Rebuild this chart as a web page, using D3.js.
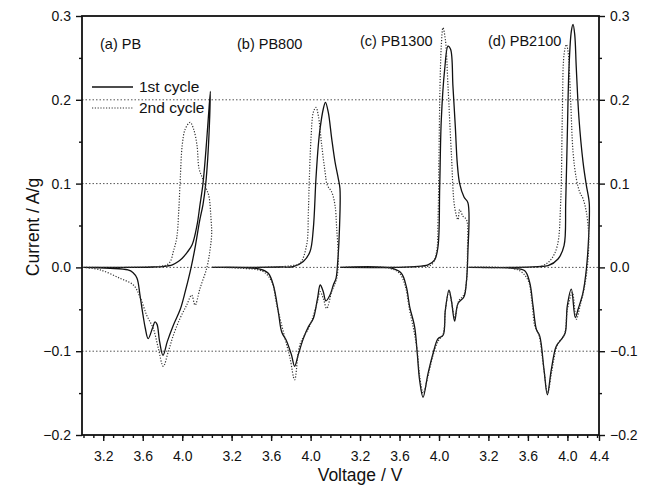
<!DOCTYPE html>
<html>
<head>
<meta charset="utf-8">
<script src="https://cdn.jsdelivr.net/npm/d3@7"></script>
<style>
  html, body { margin: 0; padding: 0; background: #fff; }
  svg { display: block; font-family: "Liberation Sans", Arial, sans-serif; }
</style>
</head>
<body>
<svg id="chart" width="649" height="492"></svg>
<script>
// ---------------- DATA ----------------
const panelLabels = ["(a) PB", "(b) PB800", "(c) PB1300", "(d) PB2100"];
const seriesNames = ["1st cycle", "2nd cycle"];
const xTickLabels = ["3.2", "3.6", "4.0"];
const xEndLabel = "4.4";
const yTickValues = [-0.2, -0.1, 0.0, 0.1, 0.2, 0.3];
const gridValues = [-0.1, 0.0, 0.1, 0.2];
const panelOffset = 1.3;   // voltage shift between successive panels

// [voltage V, current A/g]  (1st cycle = solid, 2nd cycle = dotted)
const pbCycle1 = [[3.0,0],[3.4,0],[3.7,0.0005],[3.8,0.001],[3.9,0.003],[3.96,0.007],[4.0,0.011],[4.05,0.018],[4.10,0.027],[4.149,0.05],[4.18,0.075],[4.21,0.1],[4.24,0.14],[4.265,0.18],[4.285,0.21],
  [4.275,0.17],[4.258,0.13],[4.238,0.1],[4.21,0.075],[4.175,0.055],[4.135,0.027],[4.09,0.0],[4.03,-0.029],[3.98,-0.05],[3.91,-0.069],[3.85,-0.088],[3.805,-0.105],[3.77,-0.088],[3.745,-0.068],[3.724,-0.065],[3.70,-0.072],[3.655,-0.085],[3.625,-0.072],[3.603,-0.057],[3.572,-0.033],[3.542,-0.013],[3.5,-0.006],[3.45,-0.003],[3.27,-0.001],[3.0,0]];
const pbCycle2 = [[3.0,0],[3.5,0],[3.75,0.001],[3.843,0.003],[3.88,0.007],[3.91,0.019],[3.944,0.035],[3.964,0.066],[3.98,0.106],[4.0,0.146],[4.03,0.165],[4.08,0.173],[4.115,0.165],[4.149,0.146],[4.17,0.118],[4.2,0.108],[4.24,0.095],[4.27,0.085],[4.29,0.06],[4.298,0.04],
  [4.28,0.02],[4.25,0],[4.18,-0.025],[4.13,-0.045],[4.095,-0.033],[4.045,-0.045],[3.977,-0.061],[3.91,-0.081],[3.86,-0.1],[3.808,-0.118],[3.757,-0.096],[3.707,-0.073],[3.64,-0.057],[3.572,-0.035],[3.505,-0.021],[3.37,-0.013],[3.17,-0.003],[3.0,0]];

const pb800Cycle1 = [[3.0,0],[3.4,0],[3.7,0.0005],[3.825,0.001],[3.926,0.007],[3.994,0.019],[4.027,0.046],[4.054,0.106],[4.078,0.146],[4.095,0.165],[4.128,0.189],[4.15,0.197],[4.179,0.185],[4.213,0.154],[4.247,0.126],[4.28,0.106],[4.297,0.094],
  [4.292,0.046],[4.272,0.003],[4.257,-0.013],[4.23,-0.021],[4.196,-0.033],[4.155,-0.04],[4.128,-0.029],[4.097,-0.021],[4.07,-0.037],[4.027,-0.061],[3.977,-0.071],[3.926,-0.085],[3.875,-0.104],[3.838,-0.118],[3.805,-0.104],[3.757,-0.088],[3.707,-0.077],[3.673,-0.053],[3.622,-0.021],[3.571,-0.007],[3.487,-0.002],[3.0,0]];
const pb800Cycle2 = [[3.0,0],[3.5,0],[3.8,0.002],[3.892,0.005],[3.96,0.027],[3.977,0.066],[3.987,0.106],[4.004,0.154],[4.027,0.185],[4.054,0.191],[4.078,0.181],[4.112,0.146],[4.146,0.114],[4.169,0.098],[4.213,0.09],[4.247,0.074],[4.264,0.046],[4.28,0.011],
  [4.264,-0.013],[4.213,-0.029],[4.163,-0.049],[4.128,-0.037],[4.097,-0.029],[4.07,-0.04],[3.994,-0.069],[3.892,-0.092],[3.838,-0.134],[3.791,-0.108],[3.724,-0.077],[3.657,-0.045],[3.606,-0.017],[3.52,-0.005],[3.3,-0.001],[3.0,0]];

const pb1300Cycle1 = [[3.0,0],[3.5,0],[3.75,0.001],[3.888,0.003],[3.956,0.009],[3.99,0.025],[4.007,0.096],[4.023,0.176],[4.057,0.236],[4.091,0.264],[4.118,0.26],[4.141,0.216],[4.165,0.168],[4.185,0.124],[4.209,0.1],[4.253,0.084],[4.293,0.077],
  [4.292,0.017],[4.276,-0.019],[4.253,-0.035],[4.192,-0.043],[4.158,-0.064],[4.125,-0.039],[4.101,-0.027],[4.064,-0.051],[4.041,-0.081],[3.99,-0.085],[3.939,-0.103],[3.888,-0.127],[3.838,-0.155],[3.804,-0.135],[3.78,-0.103],[3.753,-0.071],[3.703,-0.047],[3.669,-0.023],[3.618,-0.007],[3.517,-0.001],[3.0,0]];
const pb1300Cycle2 = [[3.0,0],[3.5,0],[3.8,0.001],[3.922,0.003],[3.973,0.017],[3.99,0.057],[4.0,0.137],[4.01,0.216],[4.023,0.264],[4.04,0.286],[4.064,0.272],[4.091,0.216],[4.125,0.136],[4.158,0.072],[4.192,0.057],[4.209,0.069],[4.243,0.061],[4.278,0.057],
  [4.288,0.02],[4.276,-0.019],[4.25,-0.033],[4.2,-0.04],[4.16,-0.06],[4.125,-0.04],[4.101,-0.028],[4.064,-0.052],[4.041,-0.08],[3.99,-0.088],[3.939,-0.105],[3.888,-0.13],[3.84,-0.15],[3.804,-0.13],[3.78,-0.1],[3.745,-0.075],[3.7,-0.05],[3.66,-0.023],[3.6,-0.007],[3.5,-0.001],[3.0,0]];

const pb2100Cycle1 = [[3.0,0],[3.5,0],[3.7,0.001],[3.804,0.002],[3.905,0.01],[3.966,0.026],[3.983,0.078],[3.999,0.158],[4.016,0.238],[4.04,0.282],[4.057,0.29],[4.074,0.278],[4.09,0.238],[4.117,0.178],[4.158,0.126],[4.192,0.098],[4.216,0.082],[4.222,0.075],
  [4.216,0.038],[4.192,-0.002],[4.158,-0.03],[4.108,-0.05],[4.08,-0.06],[4.04,-0.026],[3.999,-0.046],[3.978,-0.078],[3.938,-0.086],[3.887,-0.094],[3.837,-0.122],[3.797,-0.152],[3.763,-0.122],[3.72,-0.082],[3.686,-0.074],[3.652,-0.046],[3.618,-0.018],[3.568,-0.004],[3.45,-0.001],[3.0,0]];
const pb2100Cycle2 = [[3.0,0],[3.5,0],[3.75,0.002],[3.837,0.01],[3.898,0.026],[3.932,0.078],[3.948,0.178],[3.966,0.254],[3.989,0.266],[4.006,0.258],[4.033,0.198],[4.057,0.138],[4.09,0.106],[4.124,0.09],[4.158,0.082],[4.192,0.066],[4.215,0.04],
  [4.209,0.01],[4.175,-0.022],[4.13,-0.045],[4.09,-0.062],[4.05,-0.03],[4.0,-0.05],[3.97,-0.08],[3.9,-0.092],[3.84,-0.125],[3.8,-0.15],[3.76,-0.12],[3.71,-0.08],[3.67,-0.07],[3.64,-0.04],[3.6,-0.015],[3.5,-0.003],[3.0,0]];

const panels = [
  [pbCycle1, pbCycle2],
  [pb800Cycle1, pb800Cycle2],
  [pb1300Cycle1, pb1300Cycle2],
  [pb2100Cycle1, pb2100Cycle2]
];

// ---------------- LAYOUT ----------------
const svg = d3.select("#chart");
const L = 82, R = 599, T = 16, B = 435;
const xMin = 2.985, xMax = xMin + (R - L) / 98.76;
const x = d3.scaleLinear().domain([xMin, xMax]).range([L, R]);
const y = d3.scaleLinear().domain([-0.2, 0.3]).range([B, T]);

// gridlines
svg.append("g").selectAll("line").data(gridValues).join("line")
  .attr("x1", L).attr("x2", R)
  .attr("y1", d => y(d)).attr("y2", d => y(d))
  .attr("stroke", "#555").attr("stroke-width", 1)
  .attr("stroke-dasharray", "1.5,2");

// curves
const line = d3.line().curve(d3.curveCatmullRom.alpha(0.5));
panels.forEach((cycles, i) => {
  cycles.forEach((pts, j) => {
    svg.append("path")
      .attr("d", line(pts.map(p => [x(p[0] + i * panelOffset), y(p[1])])))
      .attr("fill", "none")
      .attr("stroke", j === 0 ? "#111" : "#333")
      .attr("stroke-width", j === 0 ? 1.3 : 1.2)
      .attr("stroke-dasharray", j === 0 ? null : "1.2,1.6");
  });
});

// frame
svg.append("rect").attr("x", L).attr("y", T).attr("width", R - L).attr("height", B - T)
  .attr("fill", "none").attr("stroke", "#111").attr("stroke-width", 1.8);

// y axes (left and right)
const yMinor = d3.range(-0.15, 0.3, 0.1);
const yLeft = d3.axisLeft(y).tickValues(yTickValues).tickFormat(d3.format(".1f")).tickSize(6).tickPadding(5);
const yRight = d3.axisRight(y).tickValues(yTickValues).tickFormat(d3.format(".1f")).tickSize(6).tickPadding(5);
function styleAxis(g) {
  g.select(".domain").remove();
  g.selectAll("line").attr("stroke", "#111").attr("stroke-width", 1.4);
  g.selectAll("text").attr("font-size", 14).attr("fill", "#111")
    .attr("font-family", "'Liberation Sans', Arial, sans-serif");
}
svg.append("g").attr("transform", `translate(${L},0)`).call(yLeft).call(styleAxis);
svg.append("g").attr("transform", `translate(${R},0)`).call(yRight).call(styleAxis);
svg.append("g").attr("transform", `translate(${L},0)`)
  .call(d3.axisLeft(y).tickValues(yMinor).tickFormat("").tickSize(3)).call(styleAxis);
svg.append("g").attr("transform", `translate(${R},0)`)
  .call(d3.axisRight(y).tickValues(yMinor).tickFormat("").tickSize(3)).call(styleAxis);

// x axis: minor ticks every 0.1 V, majors at 3.2/3.6/4.0 of each panel, end label 4.4
const xMinorVals = d3.range(30, Math.floor(xMax * 10) + 1).map(v => v / 10);
svg.append("g").attr("transform", `translate(0,${B})`)
  .call(d3.axisBottom(x).tickValues(xMinorVals).tickFormat("").tickSize(3)).call(styleAxis);
const xMajor = [];
panels.forEach((_, i) => xTickLabels.forEach(t => xMajor.push({v: +t + i * panelOffset, label: t})));
xMajor.push({v: xMax, label: xEndLabel});
const labelMap = new Map(xMajor.map(d => [d.v, d.label]));
svg.append("g").attr("transform", `translate(0,${B})`)
  .call(d3.axisBottom(x).tickValues(xMajor.map(d => d.v)).tickFormat(v => labelMap.get(v)).tickSize(6).tickPadding(10))
  .call(styleAxis);

// panel labels
const labelPos = [[100, 49], [237, 49], [360, 46], [488, 46]];
svg.append("g").selectAll("text").data(panelLabels).join("text")
  .attr("x", (d, i) => labelPos[i][0]).attr("y", (d, i) => labelPos[i][1])
  .attr("font-size", 14.5).attr("fill", "#111").text(d => d);

// legend
const leg = svg.append("g");
seriesNames.forEach((name, j) => {
  const ly = j === 0 ? 87 : 108;
  leg.append("line").attr("x1", 92).attr("x2", 133).attr("y1", ly).attr("y2", ly)
    .attr("stroke", j === 0 ? "#111" : "#333").attr("stroke-width", j === 0 ? 1.3 : 1.2)
    .attr("stroke-dasharray", j === 0 ? null : "1.2,1.6");
  leg.append("text").attr("x", 139).attr("y", ly + 5).attr("font-size", 15.5)
    .attr("fill", "#111").text(name);
});

// axis titles
svg.append("text").attr("x", 360).attr("y", 481).attr("text-anchor", "middle")
  .attr("font-size", 17.5).attr("fill", "#111").text("Voltage / V");
svg.append("text").attr("transform", "translate(39,227) rotate(-90)").attr("text-anchor", "middle")
  .attr("font-size", 17.5).attr("fill", "#111").text("Current / A/g");
</script>
</body>
</html>
